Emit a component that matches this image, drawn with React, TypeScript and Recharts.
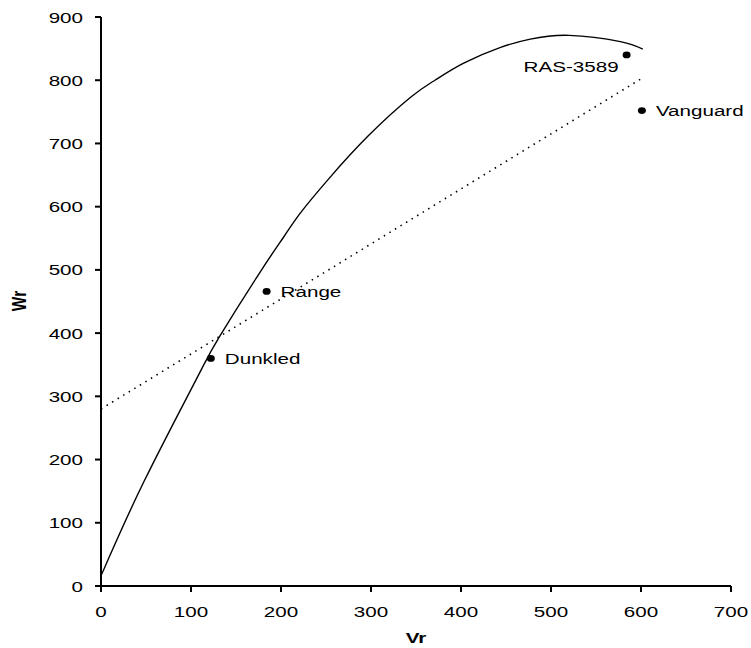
import React from "react";
import {
  ComposedChart,
  Line,
  Scatter,
  XAxis,
  YAxis,
  LabelList,
} from "recharts";

// Fitted response curve (Vr, Wr)
const curveX = [0, 48, 107, 131, 177, 203, 221, 253, 297, 344, 371, 403, 444, 477, 520, 577, 602];
const curveY = [16, 166, 330, 393, 497, 552, 589, 644, 712, 773, 800, 827, 852, 865, 871, 861, 849];

// Straight reference line (dotted)
const lineX = [0, 601];
const lineY = [280, 803];

// Observed cultivars
const pointNames = ["Dunkled", "Range", "RAS-3589", "Vanguard"];
const pointX = [122, 184, 584, 601];
const pointY = [360, 466, 840, 752];

const xTicks = [0, 100, 200, 300, 400, 500, 600, 700];
const yTicks = [0, 100, 200, 300, 400, 500, 600, 700, 800, 900];

const curveData = curveX.map((x, i) => ({ x, y: curveY[i] }));
const lineData = lineX.map((x, i) => ({ x, y: lineY[i] }));
const pointData = pointX.map((x, i) => ({ x, y: pointY[i], name: pointNames[i] }));

const FONT = "'Liberation Sans', Arial, sans-serif";
const SX = 1.33;

const XTick = (props: any) => {
  const { x, y, payload } = props;
  return (
    <text
      transform={`translate(${x},${y + 23}) scale(${SX},1)`}
      textAnchor="middle"
      fontFamily={FONT}
      fontSize={15.5}
      fill="#000"
    >
      {payload.value}
    </text>
  );
};

const YTick = (props: any) => {
  const { x, y, payload } = props;
  return (
    <text
      transform={`translate(${x - 10},${y + 5.5}) scale(${SX},1)`}
      textAnchor="end"
      fontFamily={FONT}
      fontSize={15.5}
      fill="#000"
    >
      {payload.value}
    </text>
  );
};

const Dot = (props: any) => {
  const { cx, cy } = props;
  return <ellipse cx={cx} cy={cy} rx={4} ry={3.4} fill="#000" />;
};

const PointLabel = (props: any) => {
  const { x, y, width, height, value } = props;
  const cx = x + (width || 0) / 2;
  const cy = y + (height || 0) / 2;
  const left = value === "RAS-3589";
  const tx = left ? cx - 8 : cx + 14;
  const ty = left ? cy + 17 : cy + 5.5;
  return (
    <text
      transform={`translate(${tx},${ty}) scale(${SX},1)`}
      textAnchor={left ? "end" : "start"}
      fontFamily={FONT}
      fontSize={15.5}
      fill="#000"
    >
      {value}
    </text>
  );
};

export default function App() {
  return (
    <div style={{ position: "absolute", left: 0, top: 0, background: "#fff" }}>
      <ComposedChart
        width={751}
        height={648}
        margin={{ top: 17, right: 20, left: 41, bottom: 2 }}
      >
        <XAxis
          type="number"
          dataKey="x"
          domain={[0, 700]}
          ticks={xTicks}
          interval={0}
          height={60}
          tickSize={6}
          tick={<XTick />}
          axisLine={{ stroke: "#000", strokeWidth: 2 }}
          tickLine={{ stroke: "#000", strokeWidth: 2 }}
          allowDataOverflow
        />
        <YAxis
          type="number"
          dataKey="y"
          domain={[0, 900]}
          ticks={yTicks}
          interval={0}
          width={60}
          tickSize={6}
          tick={<YTick />}
          axisLine={{ stroke: "#000", strokeWidth: 2 }}
          tickLine={{ stroke: "#000", strokeWidth: 2 }}
          allowDataOverflow
        />
        <Line
          data={curveData}
          dataKey="y"
          type="natural"
          stroke="#000"
          strokeWidth={1.4}
          dot={false}
          activeDot={false}
          isAnimationActive={false}
        />
        <Line
          data={lineData}
          dataKey="y"
          type="linear"
          stroke="#000"
          strokeWidth={1.6}
          strokeDasharray="1.5 5"
          dot={false}
          activeDot={false}
          isAnimationActive={false}
        />
        <Scatter
          data={pointData}
          dataKey="y"
          shape={<Dot />}
          isAnimationActive={false}
        >
          <LabelList dataKey="name" content={<PointLabel />} />
        </Scatter>
        <text
          transform={`translate(416,642.5) scale(${SX},1)`}
          textAnchor="middle"
          fontFamily={FONT}
          fontSize={15.5}
          fontWeight="bold"
          fill="#000"
        >
          Vr
        </text>
        <text
          transform="translate(26,301) rotate(-90) scale(1,1.33)"
          textAnchor="middle"
          fontFamily={FONT}
          fontSize={15.5}
          fontWeight="bold"
          fill="#000"
        >
          Wr
        </text>
      </ComposedChart>
    </div>
  );
}
